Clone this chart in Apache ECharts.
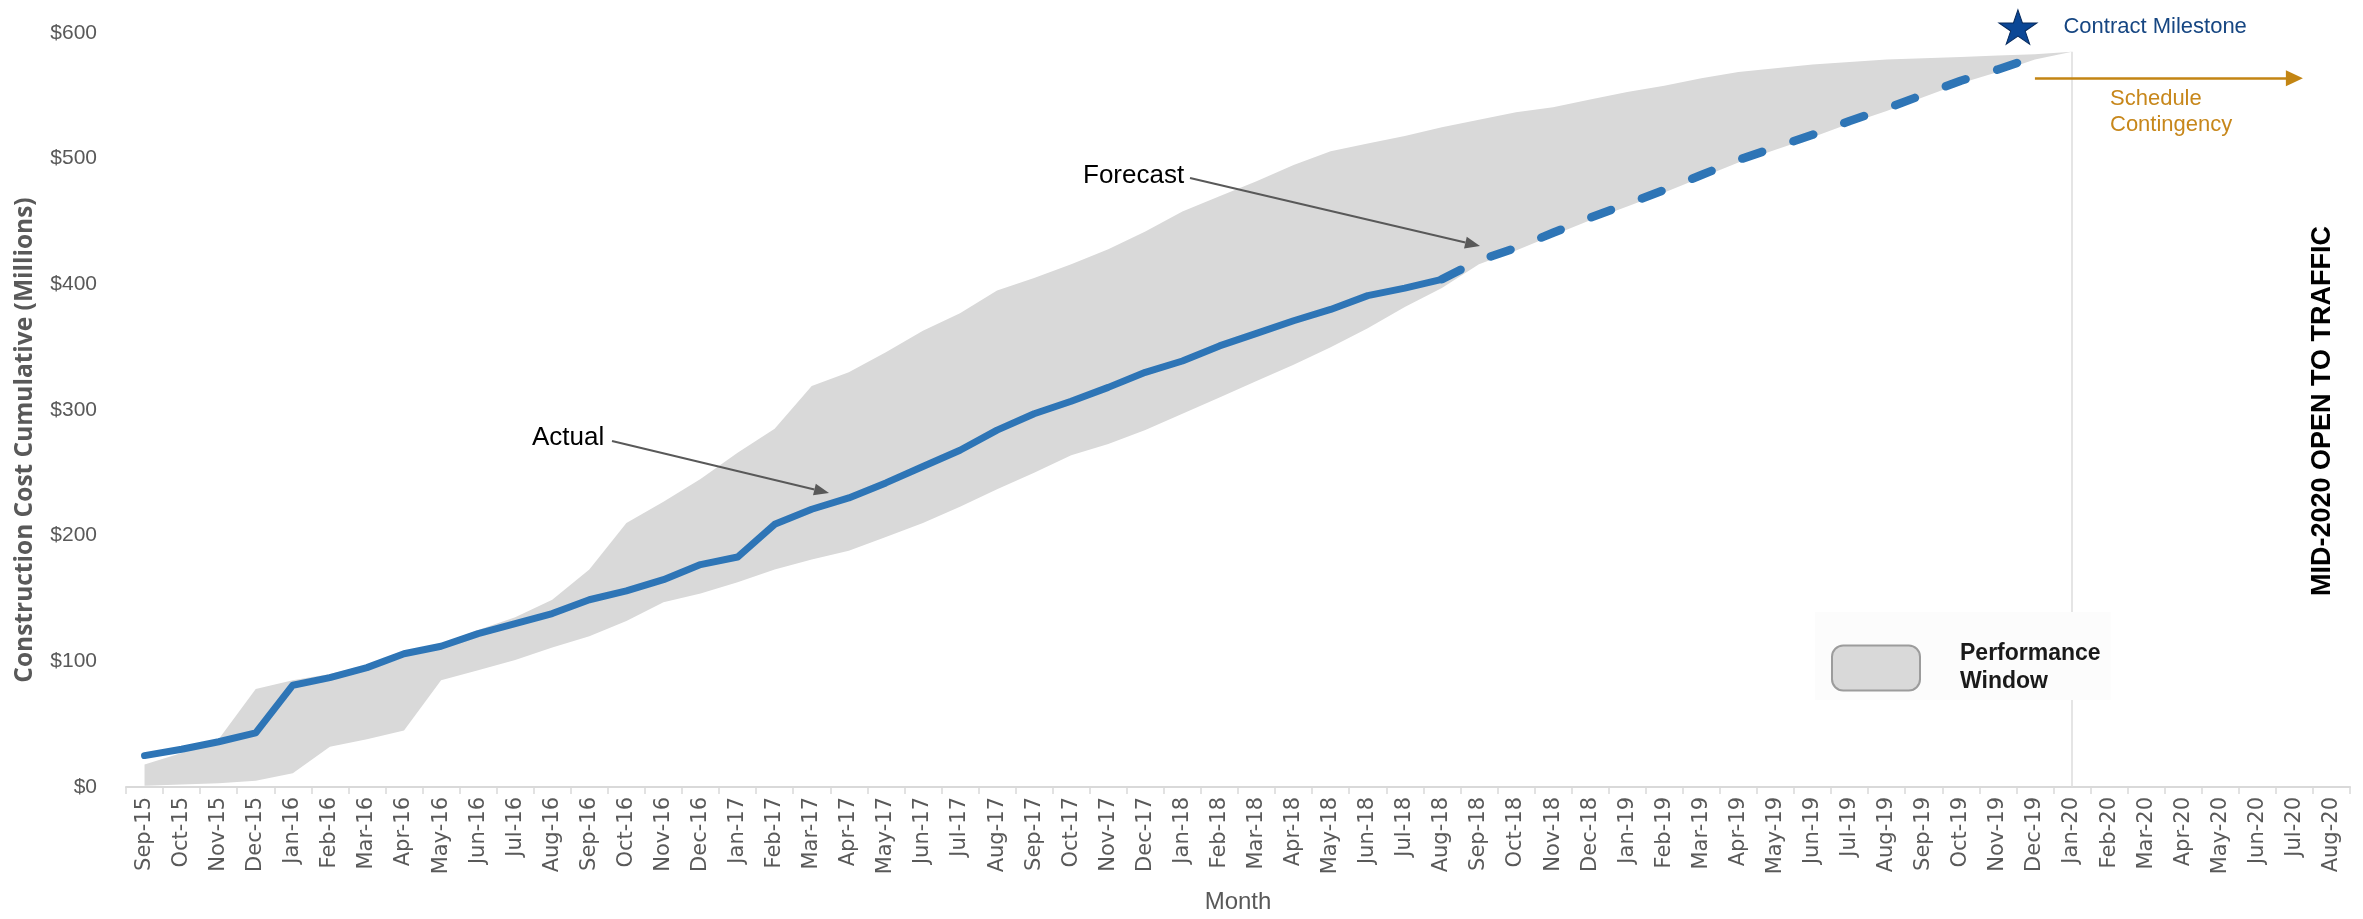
<!DOCTYPE html>
<html>
<head>
<meta charset="utf-8">
<script src="https://cdn.jsdelivr.net/npm/echarts@6/dist/echarts.min.js"></script>
<style>
html,body{margin:0;padding:0;background:#fff;}
#chart{width:2363px;height:919px;}
</style>
</head>
<body>
<div id="chart"></div>
<script>
const categories = ['Sep-15','Oct-15','Nov-15','Dec-15',
  'Jan-16','Feb-16','Mar-16','Apr-16','May-16','Jun-16','Jul-16','Aug-16','Sep-16','Oct-16','Nov-16','Dec-16',
  'Jan-17','Feb-17','Mar-17','Apr-17','May-17','Jun-17','Jul-17','Aug-17','Sep-17','Oct-17','Nov-17','Dec-17',
  'Jan-18','Feb-18','Mar-18','Apr-18','May-18','Jun-18','Jul-18','Aug-18','Sep-18','Oct-18','Nov-18','Dec-18',
  'Jan-19','Feb-19','Mar-19','Apr-19','May-19','Jun-19','Jul-19','Aug-19','Sep-19','Oct-19','Nov-19','Dec-19',
  'Jan-20','Feb-20','Mar-20','Apr-20','May-20','Jun-20','Jul-20','Aug-20'];

// Actual cumulative cost (Sep-15 .. Aug-18)
const actual = [25,30,36,43,81,87,95,106,112,122,130,138,149,156,165,177,183,209,221,230,242,255,268,284,297,307,318,330,339,351,361,371,380,391,397,404];

// Forecast (Aug-18 .. Dec-19)
const forecastStartIndex = 35;
const forecast = [404,419,429,441,453,464,475,487,499,509,519,530,540,551,562,571,581];

// Performance window boundaries (Sep-15 .. Jan-20)
const bandLower = [1,2,3,5,11,32,38,45,85,93,101,111,120,132,147,154,163,173,181,188,199,210,223,237,250,264,273,284,297,310,323,336,350,365,382,397,416,427,439,451,462,473,485,497,507,517,528,538,549,560,569,579,584];
const bandUpper = [18,27,38,78,85,90,97,106,114,125,135,149,173,210,227,245,266,285,319,330,346,363,377,395,405,416,428,442,458,470,482,495,506,512,518,525,531,537,541,547,553,558,564,569,572,575,577,579,580,581,582,583,585];

const yTicks = [0,100,200,300,400,500,600];

// Milestones
const milestoneCategory = 'Dec-19';
const milestoneValue = 600;
const openLineCategory = 'Jan-20';
const openLineTop = 585;
const contingencyFrom = 'Dec-19';
const contingencyTo = 'Jul-20';
const contingencyValue = 564;

const GRAY = '#595959';
const BLUE = '#2e75b6';

const bandDiff = bandUpper.map((u, i) => u - bandLower[i]);
const forecastData = new Array(forecastStartIndex).fill('-').concat(forecast);

function arrow(x1, y1, x2, y2, color) {
  const a = Math.atan2(y2 - y1, x2 - x1);
  const L = 15, W = 6;
  const bx = x2 - L * Math.cos(a), by = y2 - L * Math.sin(a);
  const px = -Math.sin(a) * W, py = Math.cos(a) * W;
  return [
    {type: 'line', silent: true, z: 100, shape: {x1: x1, y1: y1, x2: bx, y2: by}, style: {stroke: color, lineWidth: 2}},
    {type: 'polygon', silent: true, z: 100, shape: {points: [[x2, y2], [bx + px, by + py], [bx - px, by - py]]}, style: {fill: color}}
  ];
}

const starPath = 'path://M50,0 L61.2,34.5 L97.6,34.5 L68.2,55.9 L79.4,90.5 L50,69.1 L20.6,90.5 L31.8,55.9 L2.4,34.5 L38.8,34.5 Z';

const chart = echarts.init(document.getElementById('chart'));
chart.setOption({
  animation: false,
  backgroundColor: '#ffffff',
  grid: {left: 126, right: 13, top: 33, bottom: 129},
  legend: {
    left: 1815, top: 612,
    padding: [28, 10, 4, 16],
    backgroundColor: '#fcfcfc',
    selectedMode: false,
    itemWidth: 88, itemHeight: 45,
    data: [{name: 'Performance Window', icon: 'roundRect',
            itemStyle: {color: '#d9d9d9', borderColor: '#9c9c9c', borderWidth: 2}}],
    formatter: function () { return 'Performance\nWindow'; },
    textStyle: {fontFamily: 'Liberation Sans', fontWeight: 'bold', fontSize: 23, color: '#1a1a1a', lineHeight: 28, padding: [0, 0, 0, 35]}
  },
  xAxis: {
    type: 'category',
    data: categories,
    boundaryGap: true,
    name: 'Month',
    nameLocation: 'middle',
    nameGap: 103,
    nameTextStyle: {fontFamily: 'Liberation Sans', fontSize: 24, color: GRAY},
    axisLine: {lineStyle: {color: '#d9d9d9', width: 2}},
    axisTick: {show: true, interval: 0, length: 7, lineStyle: {color: '#d9d9d9', width: 1.5}},
    axisLabel: {interval: 0, rotate: 90, margin: 10, fontFamily: 'DejaVu Sans', fontSize: 21, color: GRAY},
    splitLine: {show: false}
  },
  yAxis: {
    type: 'value',
    min: yTicks[0], max: yTicks[yTicks.length - 1], interval: 100,
    axisLine: {show: false},
    axisTick: {show: false},
    splitLine: {show: false},
    axisLabel: {margin: 29, fontFamily: 'Liberation Sans', fontSize: 21, color: GRAY,
                formatter: function (v) { return '$' + v; }}
  },
  series: [
    {name: 'bandBase', type: 'line', stack: 'band', data: bandLower, symbol: 'none', silent: true,
     lineStyle: {opacity: 0}, z: 1},
    {name: 'Performance Window', type: 'line', stack: 'band', data: bandDiff, symbol: 'none', silent: true,
     lineStyle: {opacity: 0}, areaStyle: {color: '#d9d9d9', opacity: 1}, itemStyle: {color: '#d9d9d9'}, z: 1},
    {name: 'Open Line', type: 'line', data: [[openLineCategory, 0], [openLineCategory, openLineTop]],
     symbol: 'none', silent: true, lineStyle: {color: '#dcdcdc', width: 1.5}, z: 2,
     markLine: {
       silent: true, animation: false,
       symbol: ['none', 'triangle'], symbolSize: [16, 17],
       label: {show: false},
       lineStyle: {color: '#c38513', width: 2.5, type: 'solid'},
       data: [[{coord: [contingencyFrom, contingencyValue]}, {coord: [contingencyTo, contingencyValue]}]]
     }},
    {name: 'Actual', type: 'line', data: actual, symbol: 'none', silent: true,
     lineStyle: {color: BLUE, width: 7, join: 'round', cap: 'round'}, z: 5},
    {name: 'Forecast', type: 'line', data: forecastData, symbol: 'none', silent: true,
     lineStyle: {color: BLUE, width: 8.5, type: [21, 33], cap: 'round', join: 'round'}, z: 5},
    {name: 'Contract Milestone', type: 'scatter', clip: false, silent: true,
     data: [[milestoneCategory, milestoneValue]],
     symbol: starPath, symbolSize: [38, 36], symbolOffset: [-17, -6], symbolKeepAspect: true,
     itemStyle: {color: '#0b4796', borderColor: '#062a5e', borderWidth: 1, opacity: 1},
     label: {show: true, position: 'right', distance: 26, formatter: 'Contract Milestone',
             fontFamily: 'Liberation Sans', fontSize: 22, color: '#164682'}, z: 6}
  ],
  graphic: [].concat(
    [{type: 'text', silent: true, z: 100, x: 25, y: 440, rotation: Math.PI / 2,
      style: {text: 'Construction Cost Cumulative (Millions)', fontFamily: 'Open Sans', fontWeight: 'bold', fontSize: 24.5, fill: GRAY, align: 'center', verticalAlign: 'middle'}},
     {type: 'text', silent: true, z: 100, x: 532, y: 438,
      style: {text: 'Actual', fontFamily: 'Liberation Sans', fontSize: 26, fill: '#000', align: 'left', verticalAlign: 'middle'}},
     {type: 'text', silent: true, z: 100, x: 1083, y: 176,
      style: {text: 'Forecast', fontFamily: 'Liberation Sans', fontSize: 26, fill: '#000', align: 'left', verticalAlign: 'middle'}},
     {type: 'text', silent: true, z: 100, x: 2110, y: 86,
      style: {text: 'Schedule\nContingency', fontFamily: 'Liberation Sans', fontSize: 22, lineHeight: 26, fill: '#c7871b', align: 'left', verticalAlign: 'top'}},
     {type: 'text', silent: true, z: 100, x: 2323, y: 411, rotation: Math.PI / 2,
      style: {text: 'MID-2020 OPEN TO TRAFFIC', fontFamily: 'Liberation Sans', fontWeight: 'bold', fontSize: 27, fill: '#000', align: 'center', verticalAlign: 'middle'}}],
    arrow(612, 441, 829, 493, GRAY),
    arrow(1190, 178, 1480, 246, GRAY)
  )
});
</script>
</body>
</html>
